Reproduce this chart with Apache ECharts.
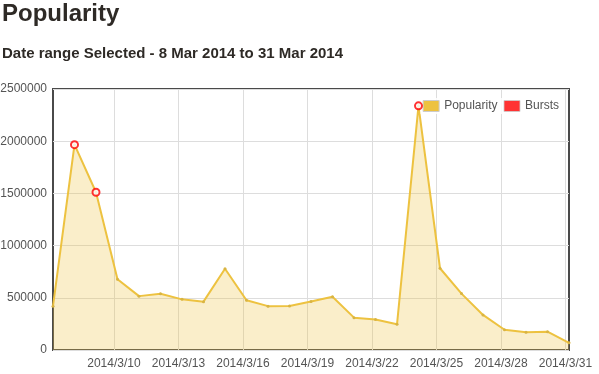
<!DOCTYPE html>
<html>
<head>
<meta charset="utf-8">
<script src="https://cdn.jsdelivr.net/npm/echarts@6/dist/echarts.min.js"></script>
<style>
  html, body { margin: 0; padding: 0; background: #fff; }
  #chart { width: 599px; height: 374px; }
</style>
</head>
<body>
<div id="chart"></div>
<script>
// ---- data ----
var days = [7, 8, 9, 10, 11, 12, 13, 14, 15, 16, 17, 18, 19, 20, 21, 22, 23, 24, 25, 26, 27, 28, 29, 30, 31]; // March 2014
var popularity = [420000, 1967000, 1511000, 678000, 516000, 539000, 485000, 463000, 778000, 476000, 420000, 422000, 465000, 510000, 310000, 293000, 246000, 2339000, 783000, 540000, 336000, 194000, 170000, 176000, 69000];
var burstDays = [8, 9, 24];
var burstValues = [1967000, 1511000, 2339000];
var tickDays = [10, 13, 16, 19, 22, 25, 28, 31];
var tickLabels = ['2014/3/10', '2014/3/13', '2014/3/16', '2014/3/19', '2014/3/22', '2014/3/25', '2014/3/28', '2014/3/31'];

var FONT = 'Liberation Sans, Arial, sans-serif';
var OFFSET = 4 / 24; // points are drawn a few hours after midnight

var popData = days.map(function (d, i) { return [d + OFFSET, popularity[i]]; });
var burstData = burstDays.map(function (d, i) { return [d + OFFSET, burstValues[i]]; });

var chart = echarts.init(document.getElementById('chart'), null, { renderer: 'canvas' });
chart.setOption({
  animation: false,
  backgroundColor: '#fff',
  title: [
    { text: 'Popularity', left: 2, top: 2, padding: 0,
      textStyle: { fontFamily: FONT, fontSize: 24, fontWeight: 'bold', color: '#2e2a26' } },
    { text: 'Date range Selected - 8 Mar 2014 to 31 Mar 2014', left: 2, top: 46, padding: 0,
      textStyle: { fontFamily: FONT, fontSize: 15, fontWeight: 'bold', color: '#2e2a26' } }
  ],
  legend: {
    right: 38, top: 98, padding: 2,
    backgroundColor: 'rgba(255,255,255,0.85)',
    itemWidth: 16, itemHeight: 11, itemGap: 6,
    textStyle: { fontFamily: FONT, fontSize: 12, color: '#545454' },
    data: [
      { name: 'Popularity', icon: 'rect', itemStyle: { color: '#edc240', borderColor: '#cccccc', borderWidth: 1 } },
      { name: 'Bursts', icon: 'rect', itemStyle: { color: '#ff0000', borderColor: '#cccccc', borderWidth: 1 } }
    ]
  },
  grid: {
    left: 53, right: 30, top: 89, bottom: 24,
    outerBoundsMode: 'none', containLabel: false,
    show: true, borderColor: '#4a4a4a', borderWidth: 2, backgroundColor: '#fff'
  },
  xAxis: {
    type: 'value',
    min: days[0] + OFFSET,
    max: days[days.length - 1] + OFFSET,
    axisLine: { show: false },
    axisTick: { show: false, customValues: tickDays },
    axisLabel: {
      customValues: tickDays, margin: 8,
      fontFamily: FONT, fontSize: 12, color: '#545454',
      formatter: function (v) { var k = tickDays.indexOf(Math.round(v)); return k >= 0 ? tickLabels[k] : ''; }
    },
    splitLine: { show: true, lineStyle: { color: '#dddddd', width: 1 } }
  },
  yAxis: {
    type: 'value', min: 0, max: 2500000, interval: 500000,
    axisLine: { show: false }, axisTick: { show: false },
    axisLabel: { margin: 6, fontFamily: FONT, fontSize: 12, color: '#545454',
      formatter: function (v) { return String(v); } },
    splitLine: { show: true, lineStyle: { color: '#dddddd', width: 1 } }
  },
  series: [
    {
      name: 'Popularity', type: 'line', data: popData,
      symbol: 'circle', symbolSize: 3, showSymbol: true,
      itemStyle: { color: '#d8b443' },
      lineStyle: { color: '#edc240', width: 2 },
      areaStyle: { color: 'rgba(237,194,64,0.4)' },
      z: 2
    },
    {
      name: 'Bursts', type: 'scatter', data: burstData,
      symbol: 'circle', symbolSize: 7,
      itemStyle: { color: '#ffffff', borderColor: '#ff0000', borderWidth: 2 },
      z: 5
    }
  ]
});
</script>
</body>
</html>
